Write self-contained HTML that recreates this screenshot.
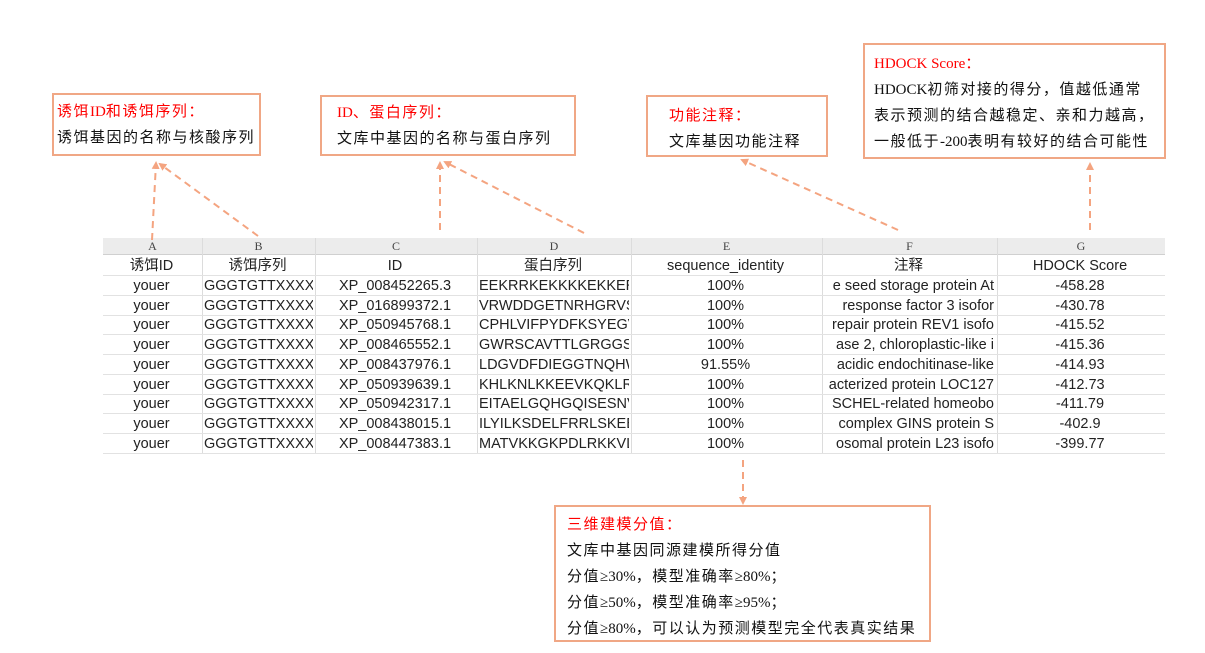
<!DOCTYPE html>
<html><head><meta charset="utf-8"><style>
body{margin:0;width:1205px;height:653px;background:#fff;position:relative;overflow:hidden;font-family:"Liberation Sans","Noto Sans CJK SC",sans-serif;}
.box{position:absolute;border:2px solid #f0a785;box-sizing:border-box;background:#fff;font-family:"Liberation Serif","Noto Sans CJK SC",serif;font-size:15px;color:#111;line-height:26px;letter-spacing:1.5px;white-space:nowrap;}
.box i{font-style:normal;letter-spacing:0}
.r{color:#ff0000}
.hdr{position:absolute;left:103px;top:238px;width:1062px;height:16px;background:#ececec;border-bottom:1px solid #d0d0d0;}
.c{position:absolute;font-size:14.5px;color:#222;white-space:nowrap;overflow:hidden;text-align:center;line-height:20px;}
.h{position:absolute;font-family:"Liberation Serif",serif;font-size:12px;color:#444;text-align:center;top:238px;line-height:16px;}
.vl{position:absolute;top:238px;height:215px;width:1px;background:#dcdcdc;}
.hl{position:absolute;left:103px;width:1062px;height:1px;background:#e2e2e2;}
</style></head><body>
<div class="hdr"></div>
<div class="vl" style="left:202px"></div><div class="vl" style="left:315px"></div><div class="vl" style="left:477px"></div><div class="vl" style="left:631px"></div><div class="vl" style="left:822px"></div><div class="vl" style="left:997px"></div>
<div class="h" style="left:103px;width:99px">A</div><div class="h" style="left:202px;width:113px">B</div><div class="h" style="left:315px;width:162px">C</div><div class="h" style="left:477px;width:154px">D</div><div class="h" style="left:631px;width:191px">E</div><div class="h" style="left:822px;width:175px">F</div><div class="h" style="left:997px;width:168px">G</div>
<div id="rows"></div>
<script>
var d=[["诱饵ID","诱饵序列","ID","蛋白序列","sequence_identity","注释","HDOCK Score"],
["youer","GGGTGTTXXXXX","XP_008452265.3","EEKRRKEKKKKEKKERG","100%","e seed storage protein At","-458.28"],
["youer","GGGTGTTXXXXX","XP_016899372.1","VRWDDGETNRHGRVS","100%","response factor 3 isofor","-430.78"],
["youer","GGGTGTTXXXXX","XP_050945768.1","CPHLVIFPYDFKSYEGVA","100%","repair protein REV1 isofo","-415.52"],
["youer","GGGTGTTXXXXX","XP_008465552.1","GWRSCAVTTLGRGGSD","100%","ase 2, chloroplastic-like i","-415.36"],
["youer","GGGTGTTXXXXX","XP_008437976.1","LDGVDFDIEGGTNQHW","91.55%","acidic endochitinase-like","-414.93"],
["youer","GGGTGTTXXXXX","XP_050939639.1","KHLKNLKKEEVKQKLRKI","100%","acterized protein LOC127","-412.73"],
["youer","GGGTGTTXXXXX","XP_050942317.1","EITAELGQHGQISESNV","100%","SCHEL-related homeobo","-411.79"],
["youer","GGGTGTTXXXXX","XP_008438015.1","ILYILKSDELFRRLSKEEIT","100%","complex GINS protein S","-402.9"],
["youer","GGGTGTTXXXXX","XP_008447383.1","MATVKKGKPDLRKKVLP","100%","osomal protein L23 isofo","-399.77"]];
var xs=[103,202,315,477,631,822,997,1165],h="";
for(var i=0;i<d.length;i++){var t=256+i*19.75;
h+='<div class="hl" style="top:'+(t+19)+'px"></div>';
for(var j=0;j<7;j++){var al=i==0?'center':((j==1||j==3)?'left;padding-left:1px':(j==5?'right;padding-right:2px':'center'));
h+='<div class="c" style="left:'+(xs[j]+1)+'px;width:'+(xs[j+1]-xs[j]-4)+'px;top:'+t+'px;text-align:'+al+'">'+d[i][j]+'</div>';}}
document.getElementById('rows').innerHTML=h;
</script>
<svg style="position:absolute;left:0;top:0" width="1205" height="653">
<defs><marker id="a" markerWidth="8" markerHeight="8" refX="6" refY="4" orient="auto" markerUnits="userSpaceOnUse"><path d="M0,0 L8,4 L0,8 z" fill="#f4a480"/></marker></defs>
<g stroke="#f4a480" stroke-width="2" stroke-dasharray="7,5" fill="none" marker-end="url(#a)">
<line x1="152" y1="240" x2="156" y2="163"/>
<line x1="258" y1="236" x2="160" y2="164"/>
<line x1="440" y1="230" x2="440" y2="163"/>
<line x1="584" y1="233" x2="445" y2="162"/>
<line x1="898" y1="230" x2="742" y2="160"/>
<line x1="1090" y1="230" x2="1090" y2="164"/>
<line x1="743" y1="460" x2="743" y2="503"/>
</g></svg>
<div class="box" style="left:52px;top:93px;width:209px;height:63px;padding:4px 0 0 3px"><span class="r">诱饵<i>ID</i>和诱饵序列：</span><br>诱饵基因的名称与核酸序列</div>
<div class="box" style="left:320px;top:95px;width:256px;height:61px;padding:3px 0 0 15px"><span class="r"><i>ID</i>、蛋白序列：</span><br>文库中基因的名称与蛋白序列</div>
<div class="box" style="left:646px;top:95px;width:182px;height:62px;padding:6px 0 0 21px"><span class="r">功能注释：</span><br>文库基因功能注释</div>
<div class="box" style="left:863px;top:43px;width:303px;height:116px;padding:6px 0 0 9px"><span class="r"><i>HDOCK Score</i>：</span><br><i>HDOCK</i>初筛对接的得分，值越低通常<br>表示预测的结合越稳定、亲和力越高，<br>一般低于<i>-200</i>表明有较好的结合可能性</div>
<div class="box" style="left:554px;top:505px;width:377px;height:137px;padding:5px 0 0 11px"><span class="r">三维建模分值：</span><br>文库中基因同源建模所得分值<br>分值<i>≥30%</i>，模型准确率<i>≥80%</i>；<br>分值<i>≥50%</i>，模型准确率<i>≥95%</i>；<br>分值<i>≥80%</i>，可以认为预测模型完全代表真实结果</div>
</body></html>
